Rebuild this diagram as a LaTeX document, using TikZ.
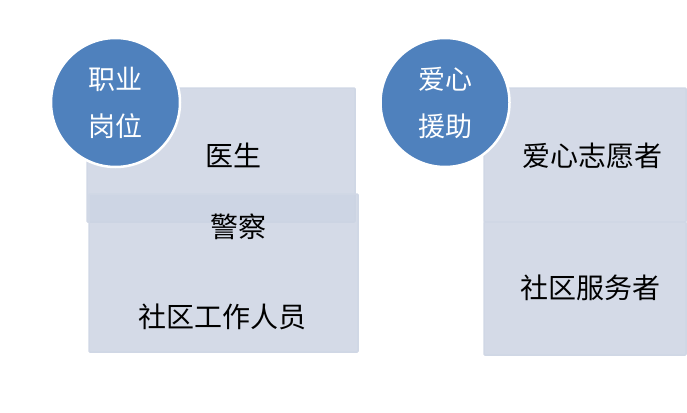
\documentclass[tikz,border=0pt]{standalone}
\usepackage{fontspec}
\newfontfamily\cjk{Noto Sans CJK SC}
\definecolor{circblue}{HTML}{4F81BD}
\definecolor{panelfill}{HTML}{CCD4E3}
\definecolor{panelline}{HTML}{D0D7E5}
\begin{document}
\begin{tikzpicture}[x=1pt,y=-1pt,
  tagcirc/.style={circle,fill=circblue,draw=white,line width=2.5pt,minimum size=129pt,
    inner sep=0pt,text=white,align=center,font=\cjk\fontsize{27}{47}\selectfont},
  panel/.style={rectangle,fill=panelfill,fill opacity=0.85,draw=panelline,line width=1.5pt,
    rounded corners=1pt,inner sep=0pt},
  itemtext/.style={font=\cjk\fontsize{28}{30}\selectfont,text=black,inner sep=0pt}]
  \useasboundingbox (0,0) rectangle (687,412);
  % left group
  \node[panel,minimum width=268pt,minimum height=134pt] (doc) at (221,155) {};
  \node[panel,minimum width=269pt,minimum height=158pt] (pol) at (223.5,273) {};
  \node[tagcirc] (job) at (115.5,102.5) {职业\\岗位};
  \node[itemtext] (tdoc) at (233,155) {医生};
  \node[itemtext] (tpol) at (238,227) {警察};
  \node[itemtext] (tcom) at (222,317) {社区工作人员};
  % right group
  \node[panel,minimum width=202pt,minimum height=134pt] (vol) at (585,155) {};
  \node[panel,minimum width=202pt,minimum height=133pt] (srv) at (585,288.5) {};
  \node[tagcirc] (help) at (445,102.5) {爱心\\援助};
  \node[itemtext] (tvol) at (592,156) {爱心志愿者};
  \node[itemtext] (tsrv) at (590,288) {社区服务者};
\end{tikzpicture}
\end{document}
